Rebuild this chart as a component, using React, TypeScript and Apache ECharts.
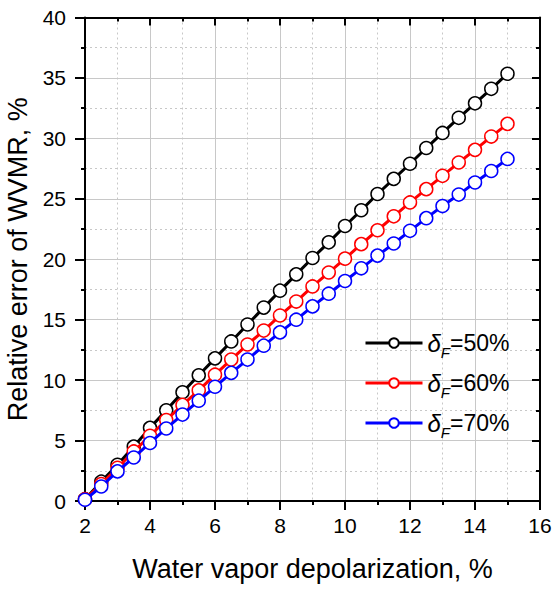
import React, { useEffect, useRef } from "react";
import * as echarts from "echarts";

const xValues = [2, 2.5, 3, 3.5, 4, 4.5, 5, 5.5, 6, 6.5, 7, 7.5, 8, 8.5, 9, 9.5, 10, 10.5, 11, 11.5, 12, 12.5, 13, 13.5, 14, 14.5, 15];
const delta50 = [0.15, 1.6, 3.0, 4.5, 6.05, 7.5, 9.0, 10.4, 11.8, 13.2, 14.6, 16.0, 17.4, 18.75, 20.1, 21.4, 22.75, 24.05, 25.4, 26.65, 27.9, 29.2, 30.45, 31.7, 32.9, 34.1, 35.35];
const delta60 = [0.15, 1.4, 2.75, 4.1, 5.4, 6.7, 7.95, 9.15, 10.45, 11.7, 12.95, 14.1, 15.35, 16.5, 17.75, 18.9, 20.05, 21.25, 22.4, 23.55, 24.7, 25.8, 26.9, 28.0, 29.05, 30.15, 31.2];
const delta70 = [0.1, 1.2, 2.45, 3.6, 4.8, 6.0, 7.15, 8.3, 9.45, 10.6, 11.7, 12.85, 13.95, 15.0, 16.1, 17.15, 18.2, 19.25, 20.3, 21.3, 22.35, 23.4, 24.4, 25.35, 26.35, 27.3, 28.3];
const seriesNames = ["50%", "60%", "70%"];
const seriesColors = ["#000000", "#ff0000", "#0000ff"];
const xTitle = "Water vapor depolarization, %";
const yTitle = "Relative error of WVMR, %";

const FONT = "'Liberation Sans', Arial, sans-serif";

export default function App() {
  const ref = useRef<HTMLDivElement>(null);
  useEffect(() => {
    if (!ref.current) return;
    const chart = echarts.init(ref.current, undefined, { renderer: "svg" });
    const allData = [delta50, delta60, delta70];
    const axisLineStyle = { color: "#000", width: 2 };
    const tickStyle = { color: "#000", width: 2 };
    const gridLine = { color: "#c8c8c8", width: 1 };
    const minorGridLine = { color: "#c8c8c8", width: 1, type: [2, 3] as any };
    chart.setOption({
      animation: false,
      textStyle: { fontFamily: FONT },
      grid: { left: 85, right: 15, top: 17.5, bottom: 88, containLabel: false, outerBoundsMode: "none" },
      legend: {
        orient: "vertical",
        left: 359,
        top: 326,
        itemWidth: 57,
        itemHeight: 12,
        itemGap: 11,
        data: seriesNames,
        lineStyle: { width: 3 },
        formatter: (name: string) => `{d|δ}{s|F}{n|=${name}}`,
        textStyle: {
          fontFamily: FONT,
          color: "#000",
          rich: {
            d: { fontSize: 24, fontStyle: "italic", fontFamily: FONT, color: "#000", lineHeight: 24 },
            s: { fontSize: 15, fontStyle: "italic", fontFamily: FONT, color: "#000", lineHeight: 34, verticalAlign: "bottom" },
            n: { fontSize: 23, fontFamily: FONT, color: "#000", lineHeight: 24 },
          },
        },
      },
      xAxis: [
        {
          type: "value",
          min: 2,
          max: 16,
          interval: 2,
          name: xTitle,
          nameLocation: "middle",
          nameGap: 54,
          nameTextStyle: { fontSize: 27, color: "#000", fontFamily: FONT },
          axisLine: { show: true, onZero: false, lineStyle: axisLineStyle },
          axisTick: { show: true, inside: false, length: 9, lineStyle: tickStyle },
          minorTick: { show: true, splitNumber: 2, length: 4, lineStyle: tickStyle },
          axisLabel: { fontSize: 21, color: "#000", margin: 14, fontFamily: FONT },
          splitLine: { show: true, lineStyle: gridLine },
          minorSplitLine: { show: true, lineStyle: minorGridLine },
        },
        {
          type: "value",
          position: "top",
          min: 2,
          max: 16,
          interval: 2,
          axisLine: { show: true, onZero: false, lineStyle: axisLineStyle },
          axisTick: { show: true, inside: true, length: 8, lineStyle: tickStyle },
          minorTick: { show: true, splitNumber: 2, length: 4, lineStyle: tickStyle },
          axisLabel: { show: false },
          splitLine: { show: false },
        },
      ],
      yAxis: [
        {
          type: "value",
          min: 0,
          max: 40,
          interval: 5,
          name: yTitle,
          nameLocation: "middle",
          nameGap: 44,
          nameTextStyle: { fontSize: 27, color: "#000", fontFamily: FONT },
          axisLine: { show: true, onZero: false, lineStyle: axisLineStyle },
          axisTick: { show: true, inside: false, length: 10, lineStyle: tickStyle },
          minorTick: { show: true, splitNumber: 2, length: 4, lineStyle: tickStyle },
          axisLabel: { fontSize: 21, color: "#000", margin: 19, fontFamily: FONT },
          splitLine: { show: true, lineStyle: gridLine },
          minorSplitLine: { show: true, lineStyle: minorGridLine },
        },
        {
          type: "value",
          position: "right",
          min: 0,
          max: 40,
          interval: 5,
          axisLine: { show: true, onZero: false, lineStyle: axisLineStyle },
          axisTick: { show: true, inside: true, length: 8, lineStyle: tickStyle },
          minorTick: { show: true, splitNumber: 2, length: 4, lineStyle: tickStyle },
          axisLabel: { show: false },
          splitLine: { show: false },
        },
      ],
      series: seriesNames.map((name, i) => ({
        name,
        type: "line",
        xAxisIndex: 0,
        yAxisIndex: 0,
        data: xValues.map((x, j) => [x, allData[i][j]]),
        symbol: "circle",
        symbolSize: 13,
        lineStyle: { color: seriesColors[i], width: 3 },
        itemStyle: { color: "#ffffff", borderColor: seriesColors[i], borderWidth: 1.5 },
        z: 3 + i,
      })),
    });
    return () => chart.dispose();
  }, []);
  return <div ref={ref} style={{ position: "absolute", left: 0, top: 0, width: 555, height: 589 }} />;
}
